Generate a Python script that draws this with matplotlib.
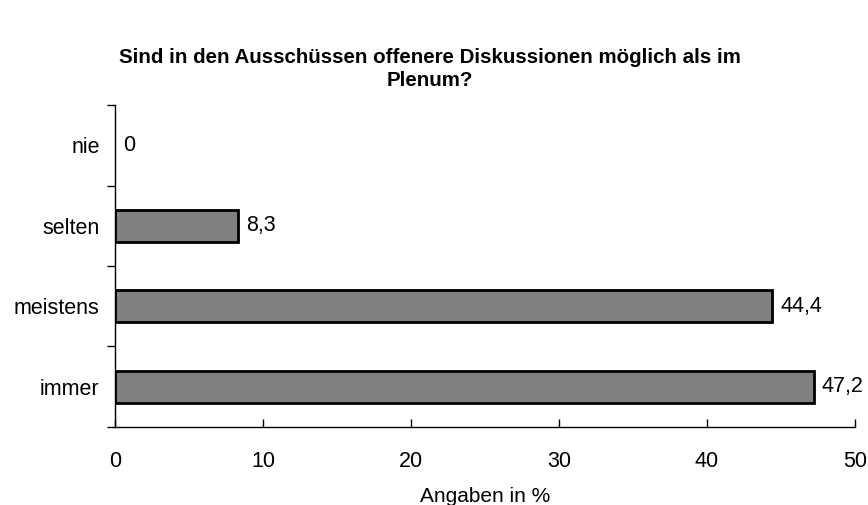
import matplotlib
matplotlib.use('Agg')
import matplotlib.pyplot as plt
import numpy as np

plt.rcParams['font.family'] = ['Liberation Sans', 'DejaVu Sans']

categories = ['immer', 'meistens', 'selten', 'nie']
values = [47.2, 44.4, 8.3, 0]
value_labels = ['47,2', '44,4', '8,3', '0']
x_ticks = [0, 10, 20, 30, 40, 50]


def main():
    fig = plt.figure(figsize=(8.68, 5.05), dpi=100)
    ax = fig.add_axes([0.1325, 0.1545, 0.8525, 0.6375])
    pos = np.arange(len(categories))
    widths = [2 if v > 0 else 0 for v in values]
    ax.barh(pos, values, height=0.4, color='#808080', edgecolor='black', linewidth=widths)
    for p, v, lab in zip(pos, values, value_labels):
        ax.text(v + 0.55, p, lab, va='center', ha='left', fontsize=15.5)

    ax.set_xlim(0, 50)
    ax.set_ylim(-0.5, len(categories) - 0.5)
    ax.set_xticks(x_ticks)
    ax.set_xticklabels([str(t) for t in x_ticks], fontsize=15.5)
    ax.tick_params(axis='x', direction='in', length=6, pad=17, width=1)
    ax.set_yticks(pos)
    ax.set_yticklabels(categories, fontsize=15.5)
    ax.tick_params(axis='y', which='major', length=0, pad=11)
    ax.set_yticks(np.arange(-0.5, len(categories), 1.0), minor=True)
    ax.tick_params(axis='y', which='minor', direction='out', length=6, width=1)
    for s in ['top', 'right']:
        ax.spines[s].set_visible(False)
    for s in ['left', 'bottom']:
        ax.spines[s].set_linewidth(1)
    ax.set_xlabel('Angaben in %', fontsize=15, labelpad=11)

    fig.text(0.495, 0.863, 'Sind in den Ausschüssen offenere Diskussionen möglich als im\nPlenum?',
             ha='center', va='center', fontsize=14.8, fontweight='bold', linespacing=1.3)
    fig.savefig('out.png', dpi=100)


if __name__ == '__main__':
    main()
